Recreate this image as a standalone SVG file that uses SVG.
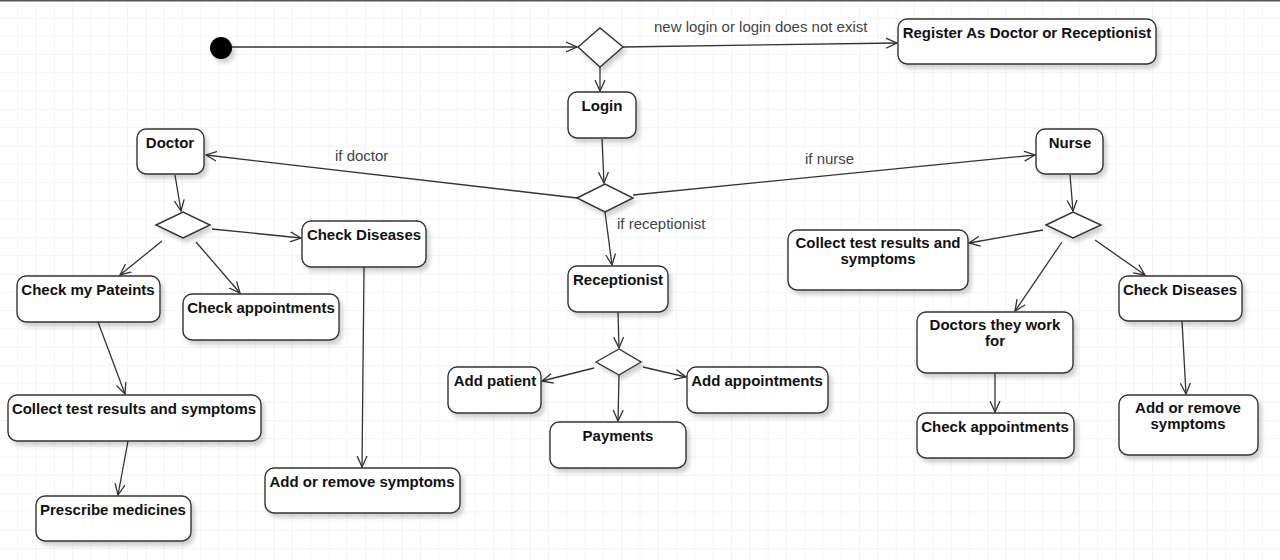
<svg xmlns="http://www.w3.org/2000/svg" width="1280" height="560" viewBox="0 0 1280 560">
<defs>
<pattern id="grid" x="0" y="0" width="18.3" height="18.3" patternUnits="userSpaceOnUse">
<path d="M18.3 0 V18.3 M0 18.3 H18.3" fill="none" stroke="#e9e9e9" stroke-width="1"/>
</pattern>
<filter id="sh" x="-10%" y="-10%" width="130%" height="140%">
<feDropShadow dx="3" dy="4" stdDeviation="2" flood-color="#000" flood-opacity="0.18"/>
</filter>
<marker id="arr" viewBox="0 0 12 12" refX="11" refY="6" markerWidth="12" markerHeight="12" markerUnits="userSpaceOnUse" orient="auto">
<path d="M0,1 L11,6 L0,11" fill="none" stroke="#333" stroke-width="1.3"/>
</marker>
<style>
.box{fill:#fff;stroke:#333;stroke-width:1.4;filter:url(#sh)}
.dia{fill:#fff;stroke:#333;stroke-width:1.4;filter:url(#sh)}
.t{font-family:"Liberation Sans",Arial,sans-serif;font-size:15px;font-weight:bold;fill:#111;text-anchor:middle}
.lbl{font-family:"Liberation Sans",Arial,sans-serif;font-size:15px;fill:#444}
.c{fill:none;stroke:#333;stroke-width:1.3;marker-end:url(#arr)}
</style>
</defs>
<rect width="1280" height="560" fill="#fff"/>
<rect width="1280" height="560" fill="url(#grid)"/>
<line x1="0" y1="0.5" x2="1280" y2="0.5" stroke="#555" stroke-width="2"/>

<g id="connectors">
<path class="c" d="M232,47 L577,47"/>
<path class="c" d="M623,47 L897,43"/>
<path class="c" d="M600,67 L600,91"/>
<path class="c" d="M602,139 L604,183"/>
<path class="c" d="M577,198 L206,155"/>
<path class="c" d="M633,195 L1035,155"/>
<path class="c" d="M605,212 L612,265"/>
<path class="c" d="M175,175 L181,211"/>
<path class="c" d="M212,229 L301,238"/>
<path class="c" d="M162,241 L120,275"/>
<path class="c" d="M196,242 L240,293"/>
<path class="c" d="M98,322 L125,394"/>
<path class="c" d="M128,441 L118,495"/>
<path class="c" d="M364,267 L362,467"/>
<path class="c" d="M618,312 L619,348"/>
<path class="c" d="M594,368 L542,381"/>
<path class="c" d="M643,367 L686,377"/>
<path class="c" d="M619,375 L618,421"/>
<path class="c" d="M1070,175 L1073,211"/>
<path class="c" d="M1043,230 L969,243"/>
<path class="c" d="M1095,240 L1145,275"/>
<path class="c" d="M1062,242 L1015,311"/>
<path class="c" d="M995,373 L995,412"/>
<path class="c" d="M1182,321 L1186,394"/>
<text class="lbl" x="654" y="32">new login or login does not exist</text>
<text class="lbl" x="335" y="161">if doctor</text>
<text class="lbl" x="805" y="164">if nurse</text>
<text class="lbl" x="617" y="229">if receptionist</text>
</g>

<g id="start"><circle cx="221" cy="48" r="11" fill="#000" filter="url(#sh)"/></g>
<g id="decision-main"><path class="dia" d="M578,47 L600,28 L623,47 L600,67 Z"/></g>
<g id="register"><rect class="box" x="898" y="19" width="258" height="45" rx="9"/><text class="t" x="1027" y="38">Register As Doctor or Receptionist</text></g>
<g id="login"><rect class="box" x="568" y="92" width="68" height="46" rx="9"/><text class="t" x="602" y="111">Login</text></g>
<g id="decision-role"><path class="dia" d="M577,198 L605,184 L633,198 L605,212 Z"/></g>
<g id="doctor"><rect class="box" x="137" y="129" width="67" height="45" rx="9"/><text class="t" x="170" y="148">Doctor</text></g>
<g id="nurse"><rect class="box" x="1036" y="129" width="67" height="45" rx="9"/><text class="t" x="1070" y="148">Nurse</text></g>
<g id="receptionist"><rect class="box" x="568" y="266" width="100" height="46" rx="9"/><text class="t" x="618" y="285">Receptionist</text></g>

<g id="decision-doctor"><path class="dia" d="M156,225 L183,212 L210,225 L183,238 Z"/></g>
<g id="doc-check-diseases"><rect class="box" x="302" y="221" width="124" height="46" rx="9"/><text class="t" x="364" y="240">Check Diseases</text></g>
<g id="doc-check-patients"><rect class="box" x="17" y="276" width="143" height="46" rx="9"/><text class="t" x="88" y="295">Check my Pateints</text></g>
<g id="doc-check-appointments"><rect class="box" x="183" y="294" width="156" height="46" rx="9"/><text class="t" x="261" y="313">Check appointments</text></g>
<g id="doc-collect"><rect class="box" x="8" y="395" width="253" height="46" rx="9"/><text class="t" x="134" y="414">Collect test results and symptoms</text></g>
<g id="doc-prescribe"><rect class="box" x="36" y="496" width="155" height="45" rx="9"/><text class="t" x="113" y="515">Prescribe medicines</text></g>
<g id="doc-add-remove"><rect class="box" x="265" y="468" width="195" height="45" rx="9"/><text class="t" x="362" y="487">Add or remove symptoms</text></g>

<g id="decision-receptionist"><path class="dia" d="M596,362 L619,349 L641,362 L619,375 Z"/></g>
<g id="add-patient"><rect class="box" x="448" y="367" width="93" height="46" rx="9"/><text class="t" x="495" y="386">Add patient</text></g>
<g id="add-appointments"><rect class="box" x="687" y="367" width="141" height="46" rx="9"/><text class="t" x="757" y="386">Add appointments</text></g>
<g id="payments"><rect class="box" x="550" y="422" width="136" height="46" rx="9"/><text class="t" x="618" y="441">Payments</text></g>

<g id="decision-nurse"><path class="dia" d="M1046,225 L1073,212 L1101,225 L1073,238 Z"/></g>
<g id="nurse-collect"><rect class="box" x="788" y="230" width="180" height="60" rx="9"/><text class="t" x="878" y="248">Collect test results and</text><text class="t" x="878" y="264">symptoms</text></g>
<g id="nurse-check-diseases"><rect class="box" x="1119" y="276" width="123" height="45" rx="9"/><text class="t" x="1180" y="295">Check Diseases</text></g>
<g id="nurse-doctors"><rect class="box" x="917" y="312" width="156" height="61" rx="9"/><text class="t" x="995" y="330">Doctors they work</text><text class="t" x="995" y="346">for</text></g>
<g id="nurse-check-appointments"><rect class="box" x="917" y="413" width="157" height="45" rx="9"/><text class="t" x="995" y="432">Check appointments</text></g>
<g id="nurse-add-remove"><rect class="box" x="1119" y="395" width="139" height="60" rx="9"/><text class="t" x="1188" y="413">Add or remove</text><text class="t" x="1188" y="429">symptoms</text></g>
</svg>
